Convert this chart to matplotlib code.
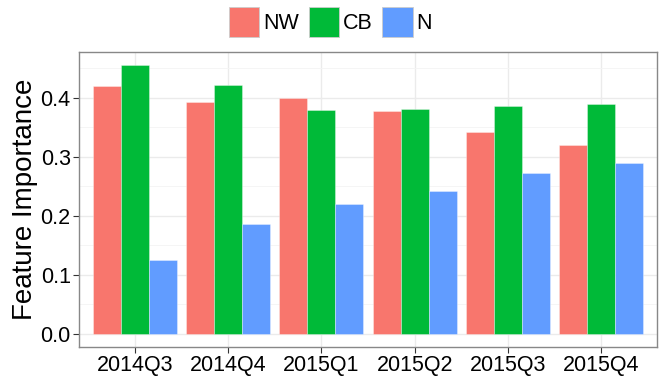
import matplotlib.pyplot as plt
import numpy as np
from matplotlib.patches import Patch

quarters = ['2014Q3', '2014Q4', '2015Q1', '2015Q2', '2015Q3', '2015Q4']
series = ['NW', 'CB', 'N']
nw = [0.420, 0.392, 0.400, 0.377, 0.341, 0.320]
cb = [0.455, 0.421, 0.379, 0.380, 0.386, 0.389]
n = [0.125, 0.186, 0.219, 0.242, 0.272, 0.289]
colors = ['#F8766D', '#00BA38', '#619CFF']

plt.rcParams['font.family'] = ['Liberation Sans', 'DejaVu Sans']

fig = plt.figure(figsize=(6.64, 3.85), dpi=100)
ax = fig.add_axes([0.119, 0.0987, 0.8705, 0.7663])

x = np.arange(1, len(quarters) + 1)
w = 0.3
for i, (vals, c) in enumerate(zip([nw, cb, n], colors)):
    ax.bar(x + (i - 1) * w, vals, width=w, color=c, zorder=3,
           edgecolor=(1, 1, 1, 0.4), linewidth=0.6)

ax.set_xlim(0.4, len(quarters) + 0.6)
ax.set_ylim(-0.0227, 0.4773)
ax.set_xticks(x)
ax.set_xticklabels(quarters)
ax.set_yticks([0.0, 0.1, 0.2, 0.3, 0.4])
ax.set_yticklabels(['0.0', '0.1', '0.2', '0.3', '0.4'])
ax.set_yticks([0.05, 0.15, 0.25, 0.35, 0.45], minor=True)
ax.grid(True, which='major', color='#ebebeb', linewidth=1.0, zorder=0)
ax.grid(True, which='minor', axis='y', color='#f4f4f4', linewidth=0.6, zorder=0)
ax.tick_params(axis='both', which='major', labelsize=15.5, length=4,
               color='#333333', width=0.8, pad=2)
ax.tick_params(axis='y', which='minor', length=0)
for s in ax.spines.values():
    s.set_color('#888888')
    s.set_linewidth(1.0)
ax.set_ylabel('Feature Importance', fontsize=20, labelpad=2)

handles = [Patch(facecolor=c, edgecolor='#cccccc', linewidth=0.6) for c in colors]
fig.legend(handles, series, loc='center', bbox_to_anchor=(0.498, 0.943),
           ncol=3, frameon=False, fontsize=15.5, handlelength=1.4,
           handleheight=1.77, handletextpad=0.19, columnspacing=0.45,
           borderaxespad=0)

fig.savefig('out.png', dpi=100)
